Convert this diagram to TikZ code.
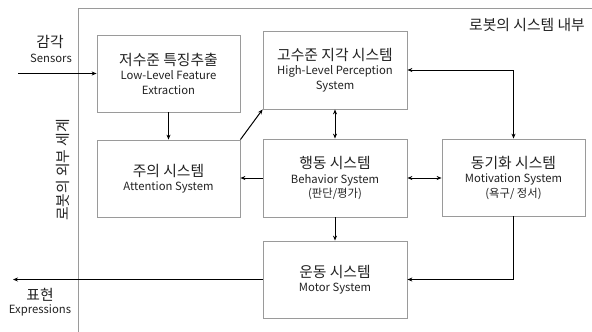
\documentclass[tikz,border=0pt]{standalone}
\usepackage{fontspec}
\setmainfont{Noto Sans CJK KR}
\usetikzlibrary{arrows.meta}
\newcommand{\kr}{\fontsize{14.8}{17}\selectfont}
\newcommand{\en}{\fontsize{11.3}{14.5}\selectfont}
\definecolor{boxgray}{HTML}{9A9A9A}
\definecolor{txt}{HTML}{222222}
\tikzset{
  sysbox/.style={draw=boxgray, line width=0.8pt, minimum width=143pt, minimum height=77pt, align=center, inner sep=0pt, text=txt, font=\en},
  arr/.style={line width=1pt, -{Stealth[length=5pt,width=4pt]}},
  arrb/.style={line width=1pt, {Stealth[length=5pt,width=4pt]}-{Stealth[length=5pt,width=4pt]}},
  lbl/.style={text=txt, inner sep=0pt, align=center}
}
\begin{document}
\begin{tikzpicture}[x=1pt,y=-1pt]
\useasboundingbox (0,0) rectangle (592,332);
\draw[boxgray, line width=0.8pt] (78,332) -- (78,8) -- (592,8);
\node[lbl, font=\kr] (inner) at (527,25) {로봇의 시스템 내부};
\node[lbl, font=\kr, rotate=90] (outer) at (63,170) {로봇의 외부 세계};

\node[sysbox] (llf) at (168.5,73.5) {{\kr 저수준 특징추출}\\Low-Level Feature\\Extraction};
\node[sysbox, minimum width=144pt, minimum height=78pt] (hlp) at (335,70) {{\kr 고수준 지각 시스템}\\High-Level Perception\\System};
\node[sysbox] (att) at (168.5,178.5) {{\kr 주의 시스템}\\Attention System};
\node[sysbox, minimum width=144pt, minimum height=78pt] (beh) at (335,178) {{\kr 행동 시스템}\\Behavior System\\(판단/평가)};
\node[sysbox] (mot) at (513.5,177.5) {{\kr 동기화 시스템}\\Motivation System\\(욕구/ 정서)};
\node[sysbox, minimum width=144pt] (motor) at (335,279.5) {{\kr 운동 시스템}\\Motor System};

\node[lbl, font=\kr] (senk) at (50,42) {감각};
\node[lbl, font=\en] (sene) at (51,58) {Sensors};
\node[lbl, font=\kr] (expk) at (40,295) {표현};
\node[lbl, font=\en] (expe) at (40,310) {Expressions};

\coordinate (sin) at (18,73.5);
\coordinate (eout) at (13,279.5);

\draw[arr] (sin) -- (llf.west);
\draw[arr] (motor.west) -- (eout);
\draw[arr] (llf.south) -- (att.north);
\draw[arr] (att.north east) -- (hlp.south west);
\draw[arrb] (hlp.south) -- (beh.north);
\draw[arrb] (hlp.east) -| (mot.north);
\draw[arr] (beh.west) -- (beh.west -| att.east);
\draw[arrb] (beh.east) -- (beh.east -| mot.west);
\draw[arr] (beh.south) -- (motor.north);
\draw[arr] (mot.south) |- (motor.east);
\end{tikzpicture}
\end{document}
